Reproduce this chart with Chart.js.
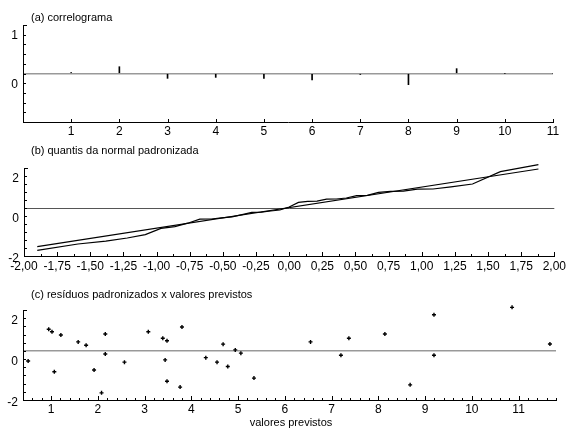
<!DOCTYPE html>
<html><head><meta charset="utf-8">
<script src="https://cdn.jsdelivr.net/npm/chart.js@4"></script>
<style>
html,body{margin:0;padding:0;background:#fff;}
#wrap{position:relative;width:569px;height:429px;overflow:hidden;font-family:"Liberation Sans",Arial,sans-serif;}
canvas{position:absolute;left:0;top:0;}
.t{position:absolute;font-size:11px;line-height:13px;color:#000;white-space:nowrap;}
</style></head><body>
<div id="wrap">
<canvas id="ca" width="569" height="429"></canvas>
<canvas id="cb" width="569" height="429"></canvas>
<canvas id="cc" width="569" height="429"></canvas>
<div class="t" style="left:31px;top:11px">(a) correlograma</div>
<div class="t" style="left:31px;top:144px">(b) quantis da normal padronizada</div>
<div class="t" style="left:31px;top:288px">(c) resíduos padronizados x valores previstos</div>
<div class="t" style="left:0;width:582px;text-align:center;top:416px">valores previstos</div>
</div>
<script>
// ---- (a) correlogram ----
const lags = [1,2,3,4,5,6,7,8,9,10,11];
const acf = [0.02,0.14,-0.10,-0.08,-0.10,-0.13,-0.02,-0.23,0.10,0,0];
const acfYLabelVals = [1,0];
const acfYLabelText = ['1','0'];

// ---- (b) normal QQ ----
const qqTheo = [-1.90,-1.593,-1.383,-1.221,-1.085,-0.967,-0.862,-0.765,-0.674,-0.589,-0.509,-0.431,-0.355,-0.282,-0.210,-0.140,-0.070,0,0.070,0.140,0.210,0.282,0.355,0.431,0.509,0.589,0.674,0.765,0.862,0.967,1.085,1.221,1.383,1.593,1.88];
const qqResid = [-2.12,-1.80,-1.66,-1.50,-1.33,-1.02,-0.93,-0.76,-0.56,-0.55,-0.49,-0.44,-0.33,-0.22,-0.21,-0.15,-0.10,0.05,0.28,0.33,0.34,0.44,0.45,0.50,0.62,0.63,0.78,0.83,0.84,0.94,0.95,1.06,1.20,1.82,2.17];
const qqLineX = [-1.90, 1.88];
const qqLineY = [-1.93, 1.95];
const qqXLabelVals = [-2,-1.75,-1.5,-1.25,-1,-0.75,-0.5,-0.25,0,0.25,0.5,0.75,1,1.25,1.5,1.75,2];
const qqXLabels = ['-2,00','-1,75','-1,50','-1,25','-1,00','-0,75','-0,50','-0,25','0,00','0,25','0,50','0,75','1,00','1,25','1,50','1,75','2,00'];
const bcYLabelVals = [2,0,-2];
const bcYLabelText = ['2','0','-2'];

// ---- (c) residuals vs fitted ----
const fitted = [0.51,0.95,1.02,1.07,1.21,1.58,1.75,1.92,2.08,2.16,2.16,2.57,3.08,3.39,3.44,3.48,3.48,3.76,3.80,4.31,4.55,4.68,4.78,4.94,5.06,5.34,6.55,7.20,7.37,8.14,8.68,9.19,9.19,10.86,11.67];
const stdResid = [-0.49,1.06,0.94,-1.02,0.78,0.44,0.28,-0.93,-2.05,0.83,-0.15,-0.55,0.94,0.62,-0.44,0.50,-1.48,-1.77,1.17,-0.33,-0.55,0.33,-0.76,0.05,-0.11,-1.33,0.44,-0.21,0.62,0.83,-1.66,1.77,-0.21,2.13,0.34];
const cXLabelVals = [1,2,3,4,5,6,7,8,9,10,11];
const cXLabels = ['1','2','3','4','5','6','7','8','9','10','11'];

// ---- helpers ----
const FONT = {family:"'Liberation Sans', Arial, sans-serif", size:12};
function stepTicks(min, max, step){ const out=[]; const n=Math.round((max-min)/step); for(let i=0;i<=n;i++) out.push(+(min+i*step).toFixed(6)); return out; }
function setTicks(vals){ return s => { s.ticks = vals.map(v => ({value:v})); }; }
function labelFn(vals, texts){ return v => { const i = vals.findIndex(x => Math.abs(x - v) < 1e-6); return i < 0 ? '' : texts[i]; }; }
const zeroGrid = (col, w) => ({display:true, drawOnChartArea:true, drawTicks:false,
  color: c => (c.tick && Math.abs(c.tick.value) < 1e-9) ? col : 'rgba(0,0,0,0)', lineWidth: w});

const inward = {
  id:'inward',
  afterDatasetsDraw(chart, args, o){
    const ctx = chart.ctx, a = chart.chartArea, xs = chart.scales.x, ys = chart.scales.y;
    ctx.save(); ctx.strokeStyle='#000'; ctx.lineWidth=1; ctx.beginPath();
    xs.ticks.forEach(t => {
      const p = Math.round(xs.getPixelForValue(t.value)) + 0.5;
      const L = t.label ? o.xMajor : o.xMinor;
      ctx.moveTo(p, a.bottom); ctx.lineTo(p, a.bottom - L);
    });
    ys.ticks.forEach(t => {
      const p = Math.round(ys.getPixelForValue(t.value)) + 0.5;
      const L = Math.abs(t.value - ys.max) < 1e-9 ? o.yTop : o.yLen;
      ctx.moveTo(a.left, p); ctx.lineTo(a.left + L, p);
    });
    ctx.stroke(); ctx.restore();
  }
};

function baseOpts(pad, inw){
  return {responsive:false, animation:false, events:[],
    layout:{padding:pad},
    plugins:{legend:{display:false}, title:{display:false}, tooltip:{enabled:false}, inward:inw}};
}
function xScale(min, max, ticks, cb, pad, h){
  return {type:'linear', min, max, offset:false, afterFit:s=>{s.height=h;}, afterBuildTicks:setTicks(ticks),
    grid:{display:false, drawTicks:false, drawOnChartArea:false}, border:{display:true, color:'#000', width:1},
    ticks:{font:FONT, color:'#000', padding:pad, autoSkip:false, maxRotation:0, minRotation:0, callback:cb}};
}
function yScale(min, max, ticks, cb, zc, zw, w){
  return {type:'linear', min, max, afterFit:s=>{s.width=w;}, afterBuildTicks:setTicks(ticks),
    grid:zeroGrid(zc, zw), border:{display:true, color:'#000', width:1},
    ticks:{font:FONT, color:'#000', padding:5, autoSkip:false, labelOffset:11, callback:cb}};
}

// ---- chart (a) ----
{
  const o = baseOpts({left:0,right:16,top:25,bottom:277}, {xMajor:3,xMinor:2,yLen:3,yTop:4});
  o.scales = {
    x: xScale(0, 11, lags, v => String(v), 2, 30),
    y: yScale(-1, 1, stepTicks(-1, 1, 0.2), labelFn(acfYLabelVals, acfYLabelText), '#999', 1.5, 23)
  };
  new Chart(document.getElementById('ca'), {
    type:'bar',
    data:{datasets:[{data: lags.map((l,i)=>({x:l, y:acf[i]})), backgroundColor:'#000', borderWidth:0, barThickness:1}]},
    options:o, plugins:[inward]
  });
}
// ---- chart (b) ----
{
  const minor = [];
  for (let i = 0; i < qqXLabelVals.length - 1; i++) minor.push((qqXLabelVals[i] + qqXLabelVals[i+1]) / 2);
  const xt = qqXLabelVals.concat(minor).sort((p,q)=>p-q);
  const o = baseOpts({left:0,right:13,top:168,bottom:143}, {xMajor:4,xMinor:2,yLen:3,yTop:4});
  o.scales = {
    x: xScale(-2, 2, xt, labelFn(qqXLabelVals, qqXLabels), 3, 30),
    y: yScale(-2.4, 2.0, stepTicks(-2.4, 2.0, 0.4), labelFn(bcYLabelVals, bcYLabelText), '#555', 1, 24)
  };
  new Chart(document.getElementById('cb'), {
    type:'scatter',
    data:{datasets:[
      {data: qqTheo.map((x,i)=>({x, y:qqResid[i]})), showLine:true, borderColor:'#000', borderWidth:1.2, pointRadius:0, tension:0, clip:false},
      {data: qqLineX.map((x,i)=>({x, y:qqLineY[i]})), showLine:true, borderColor:'#000', borderWidth:1.2, pointRadius:0, tension:0, clip:false}
    ]},
    options:o, plugins:[inward]
  });
}
// ---- chart (c) ----
{
  const xt = stepTicks(0.4, 11.8, 0.2);
  const o = baseOpts({left:0,right:13,top:310,bottom:0}, {xMajor:4,xMinor:2,yLen:3,yTop:4});
  o.scales = {
    x: xScale(0.4, 11.8, xt, labelFn(cXLabelVals, cXLabels), 2, 29),
    y: yScale(-2.4, 2.0, stepTicks(-2.4, 2.0, 0.4), labelFn(bcYLabelVals, bcYLabelText), '#999', 1.5, 23)
  };
  new Chart(document.getElementById('cc'), {
    type:'scatter',
    data:{datasets:[{data: fitted.map((x,i)=>({x, y:stdResid[i]})), pointStyle:'cross', pointRadius:2, borderColor:'#000', borderWidth:1.4, backgroundColor:'#000', clip:false}]},
    options:o, plugins:[inward]
  });
}
</script>
</body></html>
